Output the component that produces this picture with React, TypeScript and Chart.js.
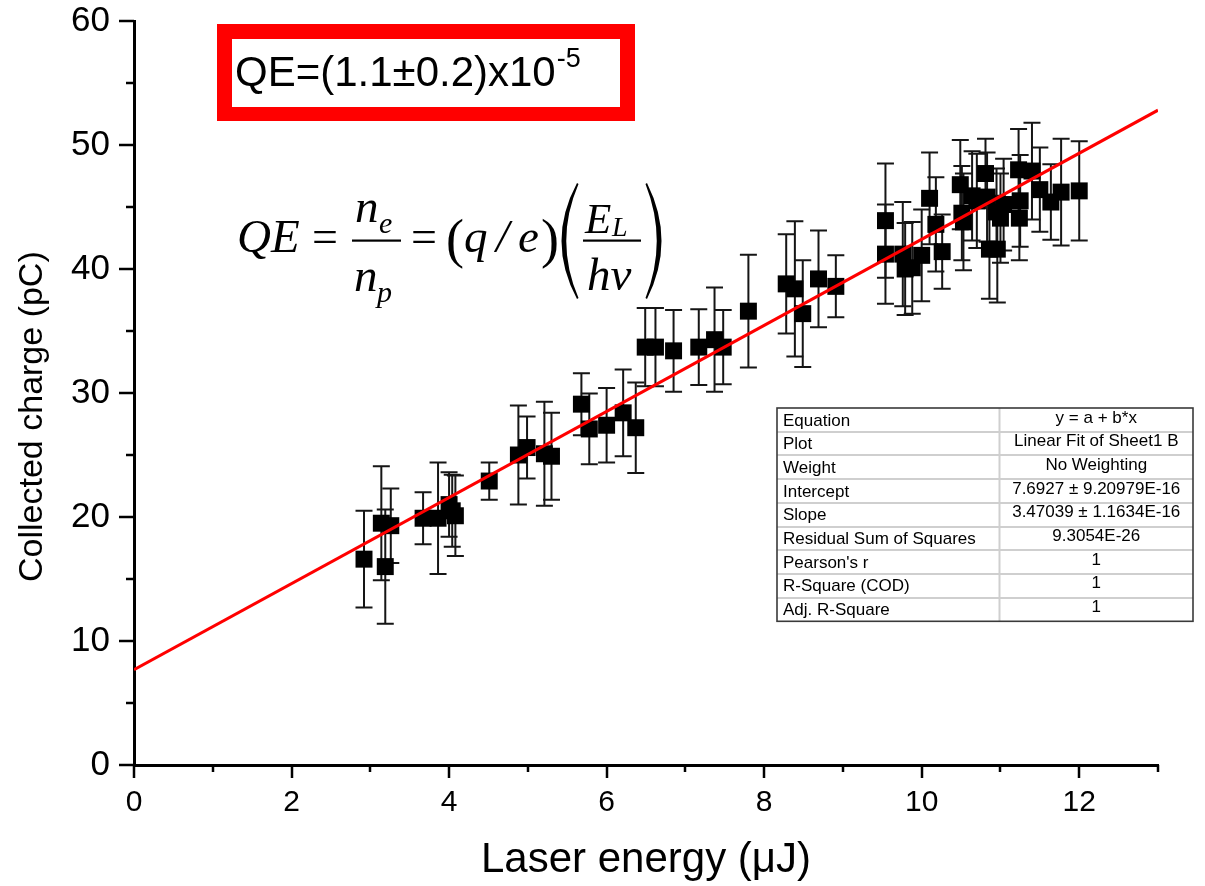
import React, { useEffect, useRef } from 'react';
import { Chart, registerables } from 'chart.js';

Chart.register(...registerables);

// ---- Data ----
const ENERGY = [
  2.92, 3.14, 3.19, 3.26, 3.67, 3.86, 4.0, 4.04, 4.08,
  4.51, 4.88, 4.99, 5.21, 5.3, 5.68, 5.78, 6.0, 6.21, 6.37,
  6.49, 6.62, 6.85, 7.17, 7.37, 7.48, 7.8,
  8.28, 8.39, 8.49, 8.69, 8.91,
  9.54, 9.54, 9.76, 9.79, 9.88, 10.0, 10.1, 10.18, 10.26,
  10.49, 10.51, 10.53, 10.64, 10.7, 10.81, 10.83, 10.86, 10.96, 10.95,
  11.04, 11.0, 11.23, 11.25, 11.24, 11.4, 11.5, 11.64, 11.77, 12.0,
];
const CHARGE = [
  16.6, 19.5, 16.0, 19.3, 19.9, 19.9, 21.0, 20.5, 20.1,
  22.9, 25.0, 25.6, 25.1, 24.9, 29.1, 27.1, 27.4, 28.4, 27.2,
  33.7, 33.7, 33.4, 33.7, 34.3, 33.7, 36.6,
  38.8, 38.4, 36.4, 39.2, 38.6,
  43.9, 41.2, 41.2, 40.0, 40.1, 41.1, 45.7, 43.6, 41.4,
  46.8, 44.5, 43.8, 45.9, 45.5, 47.7, 45.8, 41.6, 41.6, 44.6,
  45.2, 44.1, 48.0, 45.5, 44.1, 47.9, 46.4, 45.4, 46.2, 46.3,
];
const ERROR = [
  3.9, 4.6, 4.6, 3.0, 2.1, 4.5, 2.6, 2.9, 3.25,
  1.5, 4.0, 2.5, 4.2, 3.5, 2.5, 2.85, 3.0, 3.5, 3.65,
  3.15, 3.15, 3.3, 3.05, 4.2, 3.0, 4.55,
  4.0, 5.45, 4.3, 3.9, 2.5,
  4.6, 4.0, 4.2, 3.7, 3.7, 3.7, 3.7, 3.8, 3.0,
  3.6, 3.8, 3.9, 3.6, 3.8, 2.8, 3.6, 4.0, 4.3, 3.5,
  3.7, 3.6, 3.3, 3.7, 3.4, 3.9, 3.4, 3.05, 4.3, 4.0,
];
const FIT_X = [0, 13];
const FIT_Y = [7.6927, 52.8078];

const X_TICK_LABELS = ['0', '2', '4', '6', '8', '10', '12'];
const Y_TICK_LABELS = ['0', '10', '20', '30', '40', '50', '60'];

const TABLE_LABELS = [
  'Equation', 'Plot', 'Weight', 'Intercept', 'Slope',
  'Residual Sum of Squares', "Pearson's r", 'R-Square (COD)', 'Adj. R-Square',
];
const TABLE_VALUES = [
  'y = a + b*x', 'Linear Fit of Sheet1 B', 'No Weighting',
  '7.6927 ± 9.20979E-16', '3.47039 ± 1.1634E-16', '9.3054E-26', '1', '1', '1',
];

const QE_TEXT = 'QE=(1.1±0.2)x10';
const QE_EXP = '-5';

const SANS = '"Liberation Sans", Arial, sans-serif';
const SERIF = '"Liberation Serif", "Times New Roman", serif';

const errorBarsPlugin = {
  id: 'errorBars',
  beforeDatasetsDraw(chart: any) {
    const { ctx, scales } = chart;
    const xs = scales.x;
    const ys = scales.y;
    ctx.save();
    ctx.strokeStyle = '#151515';
    ctx.lineWidth = 2;
    const cap = 8.5;
    ENERGY.forEach((e, i) => {
      const px = xs.getPixelForValue(e);
      const top = ys.getPixelForValue(CHARGE[i] + ERROR[i]);
      const bot = ys.getPixelForValue(CHARGE[i] - ERROR[i]);
      ctx.beginPath();
      ctx.moveTo(px, top);
      ctx.lineTo(px, bot);
      ctx.moveTo(px - cap, top);
      ctx.lineTo(px + cap, top);
      ctx.moveTo(px - cap, bot);
      ctx.lineTo(px + cap, bot);
      ctx.stroke();
    });
    ctx.restore();
  },
};

const tickMarksPlugin = {
  id: 'tickMarks',
  afterDraw(chart: any) {
    const { ctx, scales } = chart;
    const xs = scales.x;
    const ys = scales.y;
    const area = chart.chartArea;
    ctx.save();
    ctx.strokeStyle = '#000';
    ctx.lineWidth = 2.5;
    xs.ticks.forEach((t: any) => {
      const px = Math.round(xs.getPixelForValue(t.value));
      const major = X_TICK_LABELS.includes(String(t.value));
      ctx.beginPath();
      ctx.moveTo(px, area.bottom);
      ctx.lineTo(px, area.bottom + (major ? 13 : 7));
      ctx.stroke();
    });
    ys.ticks.forEach((t: any) => {
      const py = Math.round(ys.getPixelForValue(t.value));
      const major = Y_TICK_LABELS.includes(String(t.value));
      ctx.beginPath();
      ctx.moveTo(area.left, py);
      ctx.lineTo(area.left - (major ? 15 : 8), py);
      ctx.stroke();
    });
    ctx.restore();
  },
};

function drawFormula(ctx: CanvasRenderingContext2D) {
  const it = (s: number) => `italic ${s}px ${SERIF}`;
  const rm = (s: number) => `${s}px ${SERIF}`;
  ctx.save();
  ctx.fillStyle = '#000';
  ctx.textBaseline = 'alphabetic';
  ctx.textAlign = 'left';
  ctx.font = it(47); ctx.fillText('QE', 237, 252);
  ctx.font = rm(46); ctx.fillText('=', 312, 252);
  ctx.font = it(47); ctx.fillText('n', 355, 222);
  ctx.font = it(30); ctx.fillText('e', 379, 233);
  ctx.fillRect(352, 239.5, 49, 2.2);
  ctx.font = it(47); ctx.fillText('n', 354, 291);
  ctx.font = it(30); ctx.fillText('p', 377, 302);
  ctx.font = rm(46); ctx.fillText('=', 411, 252);
  ctx.font = rm(54); ctx.fillText('(', 446, 257);
  ctx.font = it(47); ctx.fillText('q', 464, 252);
  ctx.font = it(47); ctx.fillText('/', 496, 252);
  ctx.font = it(47); ctx.fillText('e', 518, 252);
  ctx.font = rm(54); ctx.fillText(')', 541, 257);
  // big parentheses
  ctx.beginPath();
  ctx.moveTo(577, 183);
  ctx.quadraticCurveTo(546, 241, 577, 299);
  ctx.lineTo(578.5, 298);
  ctx.quadraticCurveTo(554, 241, 578.5, 184);
  ctx.closePath();
  ctx.fill();
  ctx.beginPath();
  ctx.moveTo(647, 183);
  ctx.quadraticCurveTo(676, 241, 647, 299);
  ctx.lineTo(645.5, 298);
  ctx.quadraticCurveTo(668, 241, 645.5, 184);
  ctx.closePath();
  ctx.fill();
  ctx.font = it(43); ctx.fillText('E', 585, 233);
  ctx.font = it(28); ctx.fillText('L', 612, 236);
  ctx.fillRect(583, 239.5, 58, 2.2);
  ctx.font = it(47); ctx.fillText('hv', 587, 290);
  ctx.restore();
}

function drawQEBox(ctx: CanvasRenderingContext2D) {
  ctx.save();
  ctx.fillStyle = '#ff0000';
  ctx.fillRect(217, 24, 418, 97);
  ctx.fillStyle = '#ffffff';
  ctx.fillRect(232, 39, 388, 68);
  ctx.fillStyle = '#000';
  ctx.textBaseline = 'alphabetic';
  ctx.textAlign = 'left';
  ctx.font = `42px ${SANS}`;
  ctx.fillText(QE_TEXT, 235, 86);
  const w = ctx.measureText(QE_TEXT).width;
  ctx.font = `27px ${SANS}`;
  ctx.fillText(QE_EXP, 235 + w + 1, 67);
  ctx.restore();
}

function drawTable(ctx: CanvasRenderingContext2D) {
  const left = 777;
  const right = 1193;
  const top = 408;
  const rowH = 23.7;
  const colX = 999.5;
  const bottom = top + rowH * TABLE_LABELS.length;
  ctx.save();
  ctx.fillStyle = '#ffffff';
  ctx.fillRect(left, top, right - left, bottom - top);
  ctx.strokeStyle = '#cfcfcf';
  ctx.lineWidth = 2;
  for (let i = 1; i < TABLE_LABELS.length; i++) {
    const y = Math.round(top + rowH * i);
    ctx.beginPath();
    ctx.moveTo(left, y);
    ctx.lineTo(right, y);
    ctx.stroke();
  }
  ctx.beginPath();
  ctx.moveTo(colX, top);
  ctx.lineTo(colX, bottom);
  ctx.stroke();
  ctx.strokeStyle = '#3a3a3a';
  ctx.lineWidth = 1.6;
  ctx.strokeRect(left, top, right - left, bottom - top);
  ctx.fillStyle = '#000';
  ctx.font = `17px ${SANS}`;
  ctx.textBaseline = 'middle';
  TABLE_LABELS.forEach((lab, i) => {
    const cy = top + rowH * (i + 0.5);
    ctx.textAlign = 'left';
    ctx.fillText(lab, left + 6, cy + 1);
    ctx.textAlign = 'center';
    ctx.fillText(TABLE_VALUES[i], (colX + right) / 2, cy - 2);
  });
  ctx.restore();
}

const annotationsPlugin = {
  id: 'annotations',
  afterDraw(chart: any) {
    const ctx = chart.ctx as CanvasRenderingContext2D;
    drawQEBox(ctx);
    drawFormula(ctx);
    drawTable(ctx);
  },
};

export default function App() {
  const canvasRef = useRef<HTMLCanvasElement | null>(null);

  useEffect(() => {
    const canvas = canvasRef.current;
    if (!canvas) return;
    const points = ENERGY.map((e, i) => ({ x: e, y: CHARGE[i] }));
    const fit = FIT_X.map((x, i) => ({ x, y: FIT_Y[i] }));
    const chart = new Chart(canvas, {
      type: 'scatter',
      data: {
        datasets: [
          {
            label: 'Linear Fit',
            data: fit,
            showLine: true,
            borderColor: '#ff0000',
            borderWidth: 3,
            pointRadius: 0,
            fill: false,
            order: 0,
          } as any,
          {
            label: 'Collected charge',
            data: points,
            pointStyle: 'rect',
            pointRadius: 12,
            backgroundColor: '#000',
            borderColor: '#000',
            borderWidth: 0,
            order: 1,
          } as any,
        ],
      },
      options: {
        animation: false,
        responsive: true,
        maintainAspectRatio: false,
        devicePixelRatio: 1,
        layout: { padding: { left: 0, right: 47, top: 21, bottom: 0 } },
        plugins: {
          legend: { display: false },
          tooltip: { enabled: false },
        },
        scales: {
          x: {
            type: 'linear',
            min: 0,
            max: 13,
            grid: { display: false, drawTicks: false },
            border: { display: true, color: '#000', width: 3 },
            ticks: {
              stepSize: 1,
              autoSkip: false,
              maxRotation: 0,
              padding: 20,
              color: '#000',
              font: { family: SANS, size: 30 },
              callback: (v: any) => (X_TICK_LABELS.includes(String(v)) ? String(v) : ''),
            },
            title: {
              display: true,
              text: 'Laser energy (μJ)',
              color: '#000',
              font: { family: SANS, size: 42 },
              padding: { top: 0, bottom: 0 },
            },
            afterFit: (scale: any) => {
              scale.height = 121;
              scale.paddingLeft = 0;
              scale.paddingRight = 0;
            },
          },
          y: {
            type: 'linear',
            min: 0,
            max: 60,
            grid: { display: false, drawTicks: false },
            border: { display: true, color: '#000', width: 3 },
            ticks: {
              stepSize: 5,
              autoSkip: false,
              padding: 24,
              color: '#000',
              font: { family: SANS, size: 35 },
              callback: (v: any) => (Y_TICK_LABELS.includes(String(v)) ? String(v) : ''),
            },
            title: {
              display: true,
              text: 'Collected charge (pC)     ',
              color: '#000',
              font: { family: SANS, size: 34 },
              padding: { top: 12, bottom: 0 },
            },
            afterFit: (scale: any) => {
              scale.width = 134;
              scale.paddingTop = 0;
              scale.paddingBottom = 0;
            },
          },
        },
      },
      plugins: [errorBarsPlugin, tickMarksPlugin, annotationsPlugin],
    });
    return () => chart.destroy();
  }, []);

  return (
    <div style={{ position: 'absolute', left: 0, top: 0, width: 1205, height: 886, background: '#fff' }}>
      <canvas ref={canvasRef} />
    </div>
  );
}
